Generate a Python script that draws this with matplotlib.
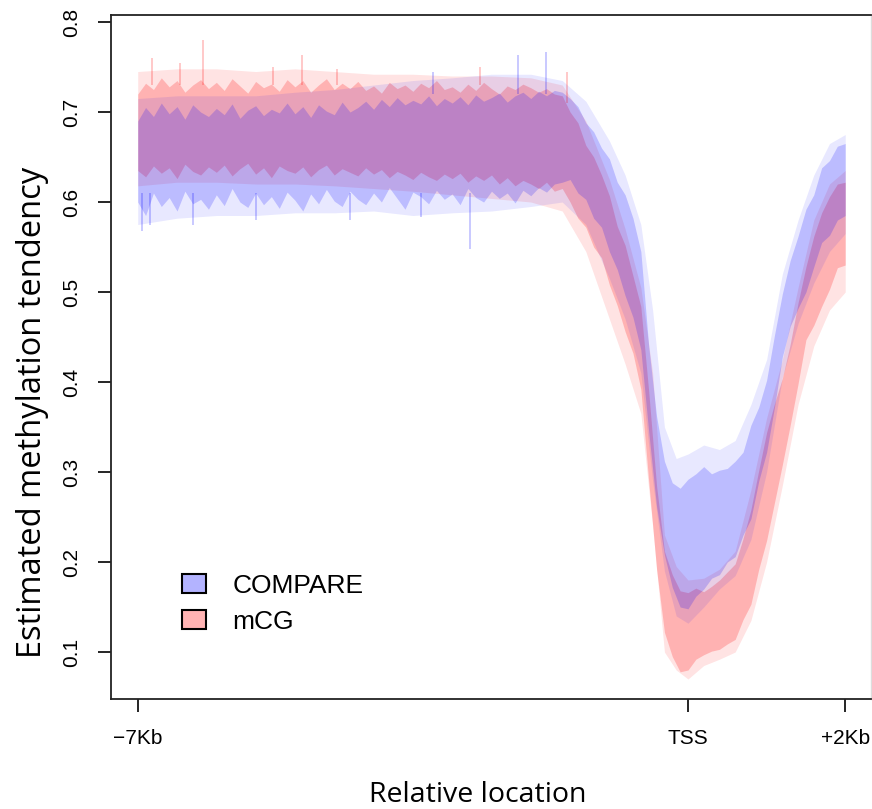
import numpy as np
import matplotlib
matplotlib.use("Agg")
import matplotlib.pyplot as plt
from matplotlib.patches import Patch

# ---------------- data (kb relative to TSS) ----------------
x_kb = np.round(np.arange(-7.0, 2.0001, 0.1), 2)

# dense core of each band
compare_lo = [
    0.600, 0.585, 0.610, 0.595, 0.605, 0.590, 0.612, 0.598, 0.603, 0.592,
    0.608, 0.596, 0.615, 0.600, 0.594, 0.610, 0.597, 0.606, 0.593, 0.611,
    0.602, 0.590, 0.609, 0.598, 0.614, 0.601, 0.595, 0.612, 0.603, 0.597,
    0.610, 0.600, 0.616, 0.604, 0.592, 0.611, 0.606, 0.598, 0.613, 0.603,
    0.609, 0.597, 0.615, 0.605, 0.600, 0.612, 0.604, 0.610, 0.599, 0.613,
    0.607, 0.616, 0.611, 0.620, 0.622,
    0.625, 0.610, 0.603, 0.582, 0.572, 0.545, 0.525, 0.496, 0.472, 0.436,
    0.345, 0.262, 0.208, 0.172, 0.150, 0.148, 0.162, 0.170, 0.182, 0.186,
    0.200, 0.206, 0.230, 0.248, 0.290, 0.322, 0.372, 0.428, 0.462, 0.482,
    0.500, 0.528, 0.555, 0.563, 0.580, 0.585]

compare_hi = [
    0.690, 0.705, 0.695, 0.710, 0.698, 0.706, 0.692, 0.708, 0.700, 0.695,
    0.704, 0.697, 0.709, 0.693, 0.702, 0.707, 0.696, 0.703, 0.699, 0.710,
    0.698, 0.706, 0.694, 0.708, 0.701, 0.697, 0.711, 0.700, 0.705, 0.712,
    0.703, 0.714, 0.706, 0.716, 0.708, 0.713, 0.709, 0.718, 0.707, 0.715,
    0.710, 0.717, 0.708, 0.719, 0.712, 0.716, 0.721, 0.711, 0.718, 0.722,
    0.715, 0.723, 0.718, 0.724, 0.722,
    0.715, 0.706, 0.688, 0.678, 0.660, 0.648, 0.622, 0.608, 0.582, 0.545,
    0.440, 0.362, 0.312, 0.288, 0.282, 0.292, 0.298, 0.306, 0.298, 0.302,
    0.304, 0.312, 0.322, 0.352, 0.372, 0.402, 0.452, 0.498, 0.535, 0.562,
    0.592, 0.608, 0.638, 0.646, 0.662, 0.665]

mcg_lo = [
    0.635, 0.628, 0.640, 0.632, 0.638, 0.626, 0.642, 0.634, 0.630, 0.639,
    0.633, 0.641, 0.629, 0.637, 0.643, 0.631, 0.638, 0.627, 0.640, 0.635,
    0.632, 0.639, 0.628, 0.636, 0.641, 0.630, 0.637, 0.633, 0.629, 0.638,
    0.631, 0.636, 0.627, 0.634, 0.630, 0.625, 0.633, 0.628, 0.624, 0.631,
    0.626, 0.632, 0.622, 0.629, 0.624, 0.630, 0.620, 0.627, 0.618, 0.624,
    0.620, 0.615, 0.622, 0.612, 0.615,
    0.600, 0.582, 0.572, 0.550, 0.538, 0.508, 0.485, 0.456, 0.432, 0.392,
    0.290, 0.192, 0.122, 0.095, 0.078, 0.080, 0.092, 0.097, 0.101, 0.103,
    0.109, 0.114, 0.136, 0.153, 0.192, 0.224, 0.266, 0.308, 0.352, 0.398,
    0.447, 0.463, 0.484, 0.503, 0.527, 0.530]

mcg_hi = [
    0.720, 0.732, 0.725, 0.738, 0.728, 0.735, 0.722, 0.730, 0.736, 0.726,
    0.733, 0.724, 0.737, 0.729, 0.721, 0.734, 0.727, 0.731, 0.723, 0.736,
    0.728, 0.735, 0.722, 0.730, 0.737, 0.725, 0.732, 0.726, 0.734, 0.724,
    0.729, 0.721, 0.733, 0.726, 0.730, 0.723, 0.732, 0.727, 0.735, 0.725,
    0.728, 0.722, 0.731, 0.724, 0.733, 0.726, 0.720, 0.729, 0.725, 0.731,
    0.727, 0.722, 0.726, 0.720, 0.718,
    0.700, 0.688, 0.663, 0.650, 0.630, 0.607, 0.573, 0.552, 0.518, 0.484,
    0.390, 0.285, 0.212, 0.186, 0.168, 0.166, 0.171, 0.167, 0.173, 0.180,
    0.189, 0.198, 0.226, 0.258, 0.302, 0.344, 0.376, 0.404, 0.442, 0.488,
    0.528, 0.562, 0.588, 0.606, 0.620, 0.622]

# sparse outer reach of the spiky fringe
x_outer = [-7.0, -6.5, -6.0, -5.5, -5.0, -4.5, -4.0, -3.5, -3.0, -2.5, -2.0, -1.6,
           -1.3, -1.0, -0.8, -0.6, -0.45, -0.3, -0.15, 0.0, 0.2, 0.4, 0.6, 0.8,
           1.0, 1.2, 1.4, 1.6, 1.8, 2.0]
compare_outer_lo = [0.575, 0.582, 0.585, 0.585, 0.588, 0.588, 0.590, 0.585, 0.588, 0.590,
                    0.595, 0.600, 0.575, 0.515, 0.470, 0.410, 0.290, 0.190, 0.140, 0.132,
                    0.150, 0.170, 0.185, 0.225, 0.300, 0.405, 0.465, 0.510, 0.545, 0.565]
compare_outer_hi = [0.715, 0.718, 0.718, 0.718, 0.722, 0.725, 0.730, 0.735, 0.738, 0.742,
                    0.742, 0.735, 0.712, 0.668, 0.630, 0.575, 0.480, 0.350, 0.315, 0.320,
                    0.330, 0.325, 0.335, 0.375, 0.425, 0.520, 0.580, 0.630, 0.665, 0.675]
mcg_outer_lo = [0.618, 0.622, 0.622, 0.620, 0.620, 0.618, 0.615, 0.612, 0.608, 0.604,
                0.600, 0.590, 0.545, 0.470, 0.420, 0.365, 0.240, 0.100, 0.080, 0.070,
                0.085, 0.092, 0.100, 0.135, 0.200, 0.285, 0.375, 0.440, 0.480, 0.500]
mcg_outer_hi = [0.745, 0.748, 0.748, 0.745, 0.748, 0.745, 0.742, 0.742, 0.740, 0.740,
                0.738, 0.730, 0.690, 0.625, 0.570, 0.505, 0.410, 0.230, 0.195, 0.180,
                0.182, 0.192, 0.212, 0.280, 0.360, 0.425, 0.505, 0.580, 0.620, 0.635]

# a few prominent single spikes: position (kb), base and tip
compare_spike_x = [-6.95, -6.85, -6.3, -5.5, -4.3, -3.4, -2.77, -3.24, -2.16, -1.8]
compare_spike_base = [0.61, 0.61, 0.61, 0.61, 0.61, 0.61, 0.61, 0.72, 0.72, 0.72]
compare_spike_tip = [0.568, 0.575, 0.575, 0.580, 0.580, 0.583, 0.548, 0.745, 0.763, 0.767]

mcg_spike_x = [-6.82, -6.46, -6.17, -5.28, -4.91, -4.47, -2.65, -1.54]
mcg_spike_base = [0.73, 0.73, 0.73, 0.73, 0.73, 0.73, 0.73, 0.71]
mcg_spike_tip = [0.760, 0.754, 0.780, 0.750, 0.763, 0.748, 0.750, 0.745]

tick_pos = [-7, 0, 2]
tick_labels = ["\u22127Kb", "TSS", "+2Kb"]
y_ticks = [0.1, 0.2, 0.3, 0.4, 0.5, 0.6, 0.7, 0.8]
series_names = ["COMPARE", "mCG"]

# ---------------- plot ----------------
blue_rgb = (0.0, 0.0, 1.0)
red_rgb = (1.0, 0.0, 0.0)

fig = plt.figure(figsize=(8.72, 8.09), dpi=100)
ax = fig.add_axes([111 / 872, 1 - 699 / 809, 760 / 872, (699 - 15) / 809])

# mCG (red) first, COMPARE (blue) on top
ax.fill_between(x_outer, mcg_outer_lo, mcg_outer_hi, color=red_rgb, alpha=0.11, lw=0)
ax.fill_between(x_kb, mcg_lo, mcg_hi, color=red_rgb, alpha=0.21, lw=0)
ax.vlines(mcg_spike_x, mcg_spike_base, mcg_spike_tip, color=red_rgb, alpha=0.25, lw=1.2)

ax.fill_between(x_outer, compare_outer_lo, compare_outer_hi, color=blue_rgb, alpha=0.09, lw=0)
ax.fill_between(x_kb, compare_lo, compare_hi, color=blue_rgb, alpha=0.19, lw=0)
ax.vlines(compare_spike_x, compare_spike_base, compare_spike_tip, color=blue_rgb,
          alpha=0.25, lw=1.2)

ax.set_xlim(-7.34, 2.328)
ax.set_ylim(0.0478, 0.8078)

ax.set_xticks(tick_pos)
ax.set_xticklabels(tick_labels, fontsize=15, family="Liberation Sans")
ax.set_yticks(y_ticks)
ax.set_yticklabels([f"{v:.1f}" for v in y_ticks], fontsize=15,
                   family="Liberation Sans", rotation=90, va="center")
ax.tick_params(axis="both", length=9.4, width=1.2, color="black")
ax.tick_params(axis="x", pad=12)
ax.tick_params(axis="y", pad=12)

for s in ["left", "bottom", "top"]:
    ax.spines[s].set_linewidth(1.3)
    ax.spines[s].set_color("#222222")
ax.spines["right"].set_color("#dddddd")
ax.spines["right"].set_linewidth(1.0)

fig.text(478 / 872, 1 - 795 / 809, "Relative location", fontsize=20.5,
         family="Open Sans", ha="center", va="center")
fig.text(33 / 872, 1 - 412 / 809, "Estimated methylation tendency", fontsize=23.5,
         family="Open Sans", ha="center", va="center", rotation=90)

handles = [Patch(facecolor=(0.7, 0.7, 1.0), edgecolor="black", lw=1.5),
           Patch(facecolor=(1.0, 0.7, 0.7), edgecolor="black", lw=1.5)]
leg = ax.legend(handles, series_names, loc="upper left", bbox_to_anchor=(0.094, 0.183),
                frameon=False, borderpad=0, borderaxespad=0, handlelength=0.9,
                handleheight=0.75, handletextpad=1.0, labelspacing=0.45,
                prop={"family": "Liberation Sans", "size": 19})

fig.savefig("out.png", dpi=100)
